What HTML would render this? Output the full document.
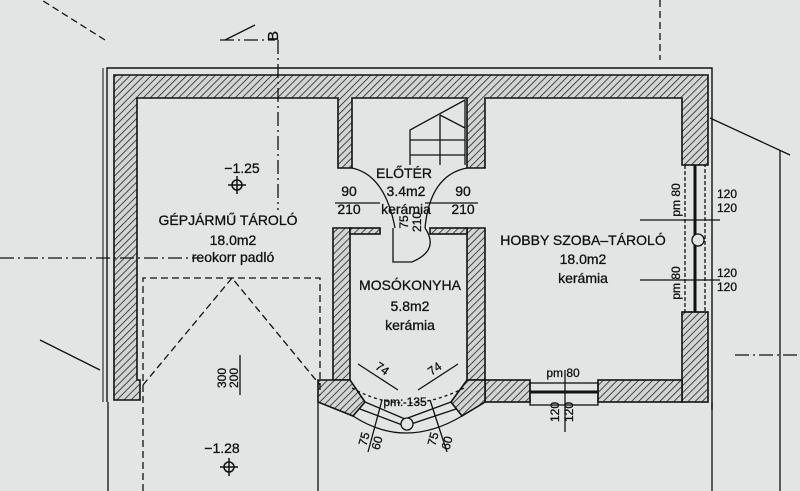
<!DOCTYPE html>
<html><head><meta charset="utf-8"><style>
html,body{margin:0;padding:0;background:#e3e5e4;}
svg{display:block;}
text{font-family:"Liberation Sans","DejaVu Sans",sans-serif;fill:#111;}
</style></head><body>
<svg width="800" height="491" viewBox="0 0 800 491" xmlns="http://www.w3.org/2000/svg">
<defs>
<pattern id="h" width="5" height="5" patternUnits="userSpaceOnUse" patternTransform="rotate(45)">
<rect width="5" height="5" fill="#d3d5d4"/><line x1="0" y1="0" x2="0" y2="5" stroke="#222" stroke-width="1.6"/>
</pattern>
</defs>
<rect width="800" height="491" fill="#e3e5e4"/>
<g stroke="#111" fill="none" stroke-width="1.4">
<path d="M107 402 V68 H712 V410"/>
<path d="M103 402 V68" stroke-width="1"/>
</g>
<g fill="url(#h)" stroke="#111" stroke-width="1.6">
<path d="M114 75 H708 V165 H682 V98 H485 V168 H467 V98 H352 V168 H338 V98 H137 V380 H140 V400 H114 Z"/>
<rect x="682" y="312" width="26" height="90"/>
<rect x="485" y="380" width="45" height="22"/>
<rect x="598" y="380" width="84" height="22"/>
<path d="M333 380 V228 H350 V380 Z"/>
<path d="M467 380 V228 H485 V380 Z"/>
<path d="M318 380 H350 L365 402 L353 416 L318 402 Z"/>
<path d="M485 380 H467 L451 402 L462 416 L485 402 Z"/>
<rect x="350" y="228" width="30" height="6"/>
<rect x="430" y="228" width="37" height="6"/>
</g>
<g stroke="#111" fill="none" stroke-width="1.3">
<!-- bay window -->
<path d="M365 402 L405 419 L451 402"/>
<path d="M360 409 L405 426 L456 409"/>
<path d="M353 416 Q405 450 462 416"/>
<path d="M352 388 Q405 418 464 388" stroke-dasharray="3 3"/>
<circle cx="407" cy="424" r="6" fill="#e3e5e4"/>
<!-- right window -->
<rect x="685" y="165" width="20" height="147" stroke-dasharray="4 2"/>
<line x1="695" y1="165" x2="695" y2="312" stroke-width="3"/>
<circle cx="698" cy="240" r="6" fill="#e3e5e4"/>
<!-- bottom window -->
<rect x="530" y="383" width="68" height="22"/>
<line x1="530" y1="392" x2="598" y2="392" stroke-width="3"/>
<line x1="565" y1="370" x2="565" y2="432"/>
<path d="M710 118 L790 155"/>
<line x1="780" y1="150" x2="780" y2="491"/>
<line x1="712" y1="402" x2="712" y2="491"/>
<g stroke-dasharray="7 4">
<path d="M143 491 V278 H320 V395"/>
<path d="M143 385 L232 278 L320 385"/>
<path d="M105 40 L10 -20"/>
<path d="M660 0 V60"/>
</g>
<g stroke-dasharray="14 4 2 4">
<line x1="0" y1="258" x2="200" y2="258"/>
<line x1="278" y1="40" x2="278" y2="210"/>
<line x1="735" y1="355" x2="800" y2="355"/>
<line x1="220" y1="40" x2="275" y2="40"/>
</g>
<line x1="225" y1="40" x2="255" y2="25"/>
<path d="M410 165 V130 L465 100 V165 M440 115 V165 M410 140 H465 M410 155 H465 M440 115 L465 128"/>
<path d="M352 168 Q385 175 395 228"/>
<path d="M467 168 Q430 175 425 228"/>
<path d="M393 228 V262 H412 M425 228 Q440 250 412 262"/>
<line x1="335" y1="203" x2="380" y2="203"/>
<line x1="425" y1="203" x2="478" y2="203"/>
<line x1="108" y1="402" x2="108" y2="491"/>
<line x1="318" y1="402" x2="318" y2="491"/>
<path d="M358 364 L398 390 M458 364 L418 390"/>
<path d="M382 400 L368 452 M430 400 L447 452"/>
<line x1="240" y1="355" x2="240" y2="395"/>
<line x1="640" y1="220" x2="720" y2="220"/>
<line x1="640" y1="280" x2="720" y2="280"/>
<path d="M40 340 L100 370"/>
</g>
<g fill="none" stroke="#111" stroke-width="1.5">
<circle cx="237" cy="185" r="5"/><line x1="228" y1="185" x2="246" y2="185"/><line x1="237" y1="176" x2="237" y2="194"/>
<circle cx="229" cy="467" r="5"/><line x1="220" y1="467" x2="238" y2="467"/><line x1="229" y1="458" x2="229" y2="476"/>
</g>
<g font-size="14" text-anchor="middle" stroke="#111" stroke-width="0.3">
<text x="242" y="173">−1.25</text>
<text x="228" y="225">GÉPJÁRMŰ TÁROLÓ</text>
<text x="233" y="245">18.0m2</text>
<text x="233" y="262">reokorr padló</text>
<text x="404" y="178">ELŐTÉR</text>
<text x="406" y="196">3.4m2</text>
<text x="406" y="214">kerámia</text>
<text x="349" y="196">90</text><text x="349" y="214">210</text>
<text x="463" y="196">90</text><text x="463" y="214">210</text>
<text x="410" y="290">MOSÓKONYHA</text>
<text x="410" y="311">5.8m2</text>
<text x="410" y="330">kerámia</text>
<text x="583" y="245">HOBBY SZOBA–TÁROLÓ</text>
<text x="583" y="264">18.0m2</text>
<text x="583" y="283">kerámia</text>
<text x="222" y="453">−1.28</text>
<text x="727" y="198" font-size="12">120</text>
<text x="727" y="212" font-size="12">120</text>
<text x="727" y="277" font-size="12">120</text>
<text x="727" y="291" font-size="12">120</text>
<text x="563" y="377" font-size="12">pm 80</text>
<text x="405" y="406" font-size="12">pm: 135</text>
</g>
<g font-size="12" text-anchor="middle" stroke="#111" stroke-width="0.3">
<text transform="translate(680,200) rotate(-90)">pm 80</text>
<text transform="translate(680,283) rotate(-90)">pm 80</text>
<text transform="translate(559,412) rotate(-90)">120</text>
<text transform="translate(573,412) rotate(-90)">120</text>
<text transform="translate(226,378) rotate(-90)">300</text>
<text transform="translate(238,378) rotate(-90)">200</text>
<text transform="translate(408,222) rotate(-90)">75</text>
<text transform="translate(421,222) rotate(-90)">210</text>
<text transform="translate(368,440) rotate(-75)">75</text>
<text transform="translate(381,444) rotate(-75)">60</text>
<text transform="translate(437,440) rotate(-75)">75</text>
<text transform="translate(451,444) rotate(-75)">60</text>
<text transform="translate(380,372) rotate(35)">74</text>
<text transform="translate(437,372) rotate(-35)">74</text>
<text transform="translate(278,36) rotate(-90)" font-size="15">B</text>
</g>
</svg>
</body></html>
